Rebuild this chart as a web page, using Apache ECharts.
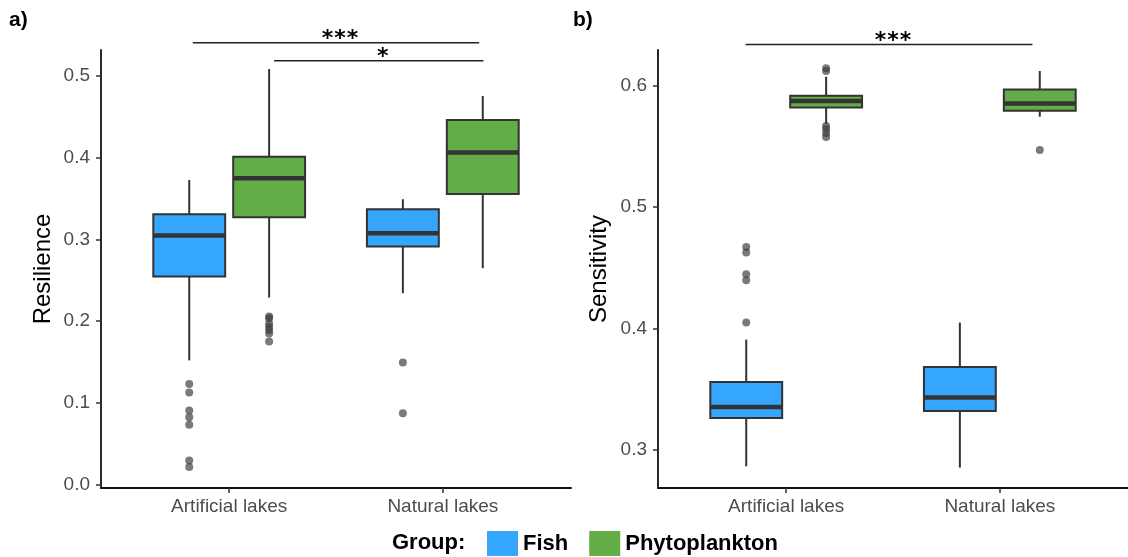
<!DOCTYPE html>
<html><head><meta charset="utf-8">
<script src="https://cdn.jsdelivr.net/npm/echarts@6/dist/echarts.min.js"></script>
<style>html,body{margin:0;padding:0;background:#fff}#c{width:1128px;height:557px}</style>
</head><body><div id="c"></div>
<script>
// ---------- data ----------
const categories = ['Artificial lakes', 'Natural lakes'];
const groups = ['Fish', 'Phytoplankton'];
// box stats per category: [lower whisker, Q1, median, Q3, upper whisker]
const resFish  = [[0.152, 0.2545, 0.3046, 0.3306, 0.3726], [0.2341, 0.2911, 0.3074, 0.3367, 0.349]];
const resPhyto = [[0.2288, 0.327, 0.3746, 0.401, 0.5081], [0.2647, 0.3555, 0.406, 0.4458, 0.4752]];
const resFishOut  = [[0.1232, 0.1126, 0.0907, 0.0826, 0.0732, 0.0297, 0.0216], [0.1494, 0.0875]];
const resPhytoOut = [[0.2055, 0.2035, 0.197, 0.193, 0.189, 0.185, 0.175], []];
const senFish  = [[0.2863, 0.3261, 0.3352, 0.3558, 0.3907], [0.2852, 0.3319, 0.3429, 0.3682, 0.4048]];
const senPhyto = [[0.5684, 0.5821, 0.5873, 0.5917, 0.6074], [0.5744, 0.5794, 0.5854, 0.5969, 0.6121]];
const senFishOut  = [[0.4671, 0.4625, 0.4446, 0.4397, 0.4048], []];
const senPhytoOut = [[0.6143, 0.6121, 0.5668, 0.5643, 0.561, 0.5577], [0.5469]];
const resTicks = [0, 0.1, 0.2, 0.3, 0.4, 0.5];
const senTicks = [0.3, 0.4, 0.5, 0.6];
const catTicks = [1, 2];
// significance brackets: [x start, x end, y, label]
const resSig = [[0.83, 2.17, 0.5403, '***'], [1.21, 2.19, 0.5183, '*']];
const senSig = [[0.81, 2.153, 0.634, '***']];

// ---------- style ----------
const FONT = '"Liberation Sans", Arial, sans-serif';
const COLORS = {Fish: '#35A6FD', Phytoplankton: '#62AD45'};
const EDGE = '#333333';
const DODGE = 0.187;
const BOX_W = 0.3364;
const STAR_PITCH = 12.5;

function boxItem(params, api) {
  const x = api.value(0);
  const lo = api.coord([x, api.value(1)]);
  const q1 = api.coord([x, api.value(2)]);
  const md = api.coord([x, api.value(3)]);
  const q3 = api.coord([x, api.value(4)]);
  const hi = api.coord([x, api.value(5)]);
  const w = api.size([BOX_W, 0])[0];
  const color = api.visual('color');
  return {type: 'group', children: [
    {type: 'line', shape: {x1: hi[0], y1: hi[1], x2: q3[0], y2: q3[1]}, style: {stroke: EDGE, lineWidth: 2}},
    {type: 'line', shape: {x1: q1[0], y1: q1[1], x2: lo[0], y2: lo[1]}, style: {stroke: EDGE, lineWidth: 2}},
    {type: 'rect', shape: {x: md[0] - w / 2, y: q3[1], width: w, height: q1[1] - q3[1]},
     style: {fill: color, stroke: EDGE, lineWidth: 2}},
    {type: 'line', shape: {x1: md[0] - w / 2, y1: md[1], x2: md[0] + w / 2, y2: md[1]},
     style: {stroke: EDGE, lineWidth: 4.5}}
  ]};
}

function makeSig(sig) {
  return function (params, api) {
    const a = api.coord([api.value(0), api.value(2)]);
    const b = api.coord([api.value(1), api.value(2)]);
    const label = sig[params.dataIndex][3];
    const cx = (a[0] + b[0]) / 2 + 4;
    const children = [
      {type: 'line', shape: {x1: a[0], y1: a[1], x2: b[0], y2: b[1]}, style: {stroke: '#222', lineWidth: 1.5}}
    ];
    const chars = label.split('');
    chars.forEach((ch, k) => {
      children.push({type: 'text', x: cx + (k - (chars.length - 1) / 2) * STAR_PITCH, y: a[1] + 8,
        style: {text: ch, fill: '#000', font: 'bold 22px "DejaVu Sans", sans-serif',
                align: 'center', verticalAlign: 'bottom'}});
    });
    return {type: 'group', children: children};
  };
}

function boxData(stats, offset) {
  return stats.map((s, i) => [i + 1 + offset].concat(s));
}
function outData(outs, offset) {
  const d = [];
  outs.forEach((arr, i) => arr.forEach(v => d.push([i + 1 + offset, v])));
  return d;
}

function panelSeries(g, fish, phyto, fishOut, phytoOut, sig) {
  const common = {xAxisIndex: g, yAxisIndex: g};
  return [
    Object.assign({type: 'custom', name: 'Fish', renderItem: boxItem, itemStyle: {color: COLORS.Fish},
      encode: {x: 0, y: [1, 2, 3, 4, 5]}, data: boxData(fish, -DODGE), z: 2}, common),
    Object.assign({type: 'custom', name: 'Phytoplankton', renderItem: boxItem, itemStyle: {color: COLORS.Phytoplankton},
      encode: {x: 0, y: [1, 2, 3, 4, 5]}, data: boxData(phyto, DODGE), z: 2}, common),
    Object.assign({type: 'scatter', name: 'outliers', symbolSize: 8, z: 3,
      itemStyle: {color: 'rgba(60,60,60,0.85)'}, data: outData(fishOut, -DODGE).concat(outData(phytoOut, DODGE))}, common),
    Object.assign({type: 'custom', name: 'signif', renderItem: makeSig(sig), clip: false,
      encode: {x: [0, 1], y: 2}, data: sig.map(s => [s[0], s[1], s[2]]), z: 4}, common)
  ];
}

function xAxisDef(g) {
  return {
    gridIndex: g, type: 'value', min: 0.4, max: 2.6,
    axisLine: {show: true, onZero: false, lineStyle: {color: '#111', width: 1.8}},
    axisTick: {show: true, length: 5, customValues: catTicks, lineStyle: {color: '#333', width: 1.5}},
    axisLabel: {customValues: catTicks, formatter: v => categories[Math.round(v) - 1],
      fontSize: 19, color: '#4d4d4d', fontFamily: FONT, margin: 9},
    splitLine: {show: false}
  };
}
function yAxisDef(g, min, max, ticks, name, gap) {
  return {
    gridIndex: g, type: 'value', min: min, max: max,
    name: name, nameLocation: 'middle', nameGap: gap,
    nameTextStyle: {fontSize: 24, color: '#000', fontFamily: FONT},
    axisLine: {show: true, onZero: false, lineStyle: {color: '#111', width: 1.8}},
    axisTick: {show: true, length: 5, customValues: ticks, lineStyle: {color: '#333', width: 1.5}},
    axisLabel: {customValues: ticks, formatter: v => v.toFixed(1),
      fontSize: 19, color: '#4d4d4d', fontFamily: FONT, margin: 11},
    splitLine: {show: false}
  };
}

const chart = echarts.init(document.getElementById('c'), null, {renderer: 'canvas'});
chart.setOption({
  animation: false,
  backgroundColor: '#fff',
  title: [
    {text: 'a)', left: 9, top: 10, padding: 0, textStyle: {fontSize: 21, fontWeight: 'bold', color: '#000', fontFamily: FONT}},
    {text: 'b)', left: 573, top: 10, padding: 0, textStyle: {fontSize: 21, fontWeight: 'bold', color: '#000', fontFamily: FONT}},
    {text: 'Group:', left: 392, top: 532, padding: 0, textStyle: {fontSize: 22, fontWeight: 'bold', color: '#000', fontFamily: FONT}}
  ],
  legend: {
    data: groups, left: 487, top: 531, padding: 0, icon: 'rect',
    itemWidth: 31, itemHeight: 25, itemGap: 21,
    itemStyle: {borderWidth: 0},
    textStyle: {fontSize: 22, fontWeight: 'bold', color: '#000', fontFamily: FONT}
  },
  grid: [
    {left: 101, right: 557, top: 50, bottom: 69},
    {left: 658, right: 0, top: 50, bottom: 69}
  ],
  xAxis: [xAxisDef(0), xAxisDef(1)],
  yAxis: [
    yAxisDef(0, -0.004, 0.5314, resTicks, 'Resilience', 46),
    yAxisDef(1, 0.2684, 0.6294, senTicks, 'Sensitivity', 47)
  ],
  series: [].concat(
    panelSeries(0, resFish, resPhyto, resFishOut, resPhytoOut, resSig),
    panelSeries(1, senFish, senPhyto, senFishOut, senPhytoOut, senSig)
  )
});
</script>
</body></html>
